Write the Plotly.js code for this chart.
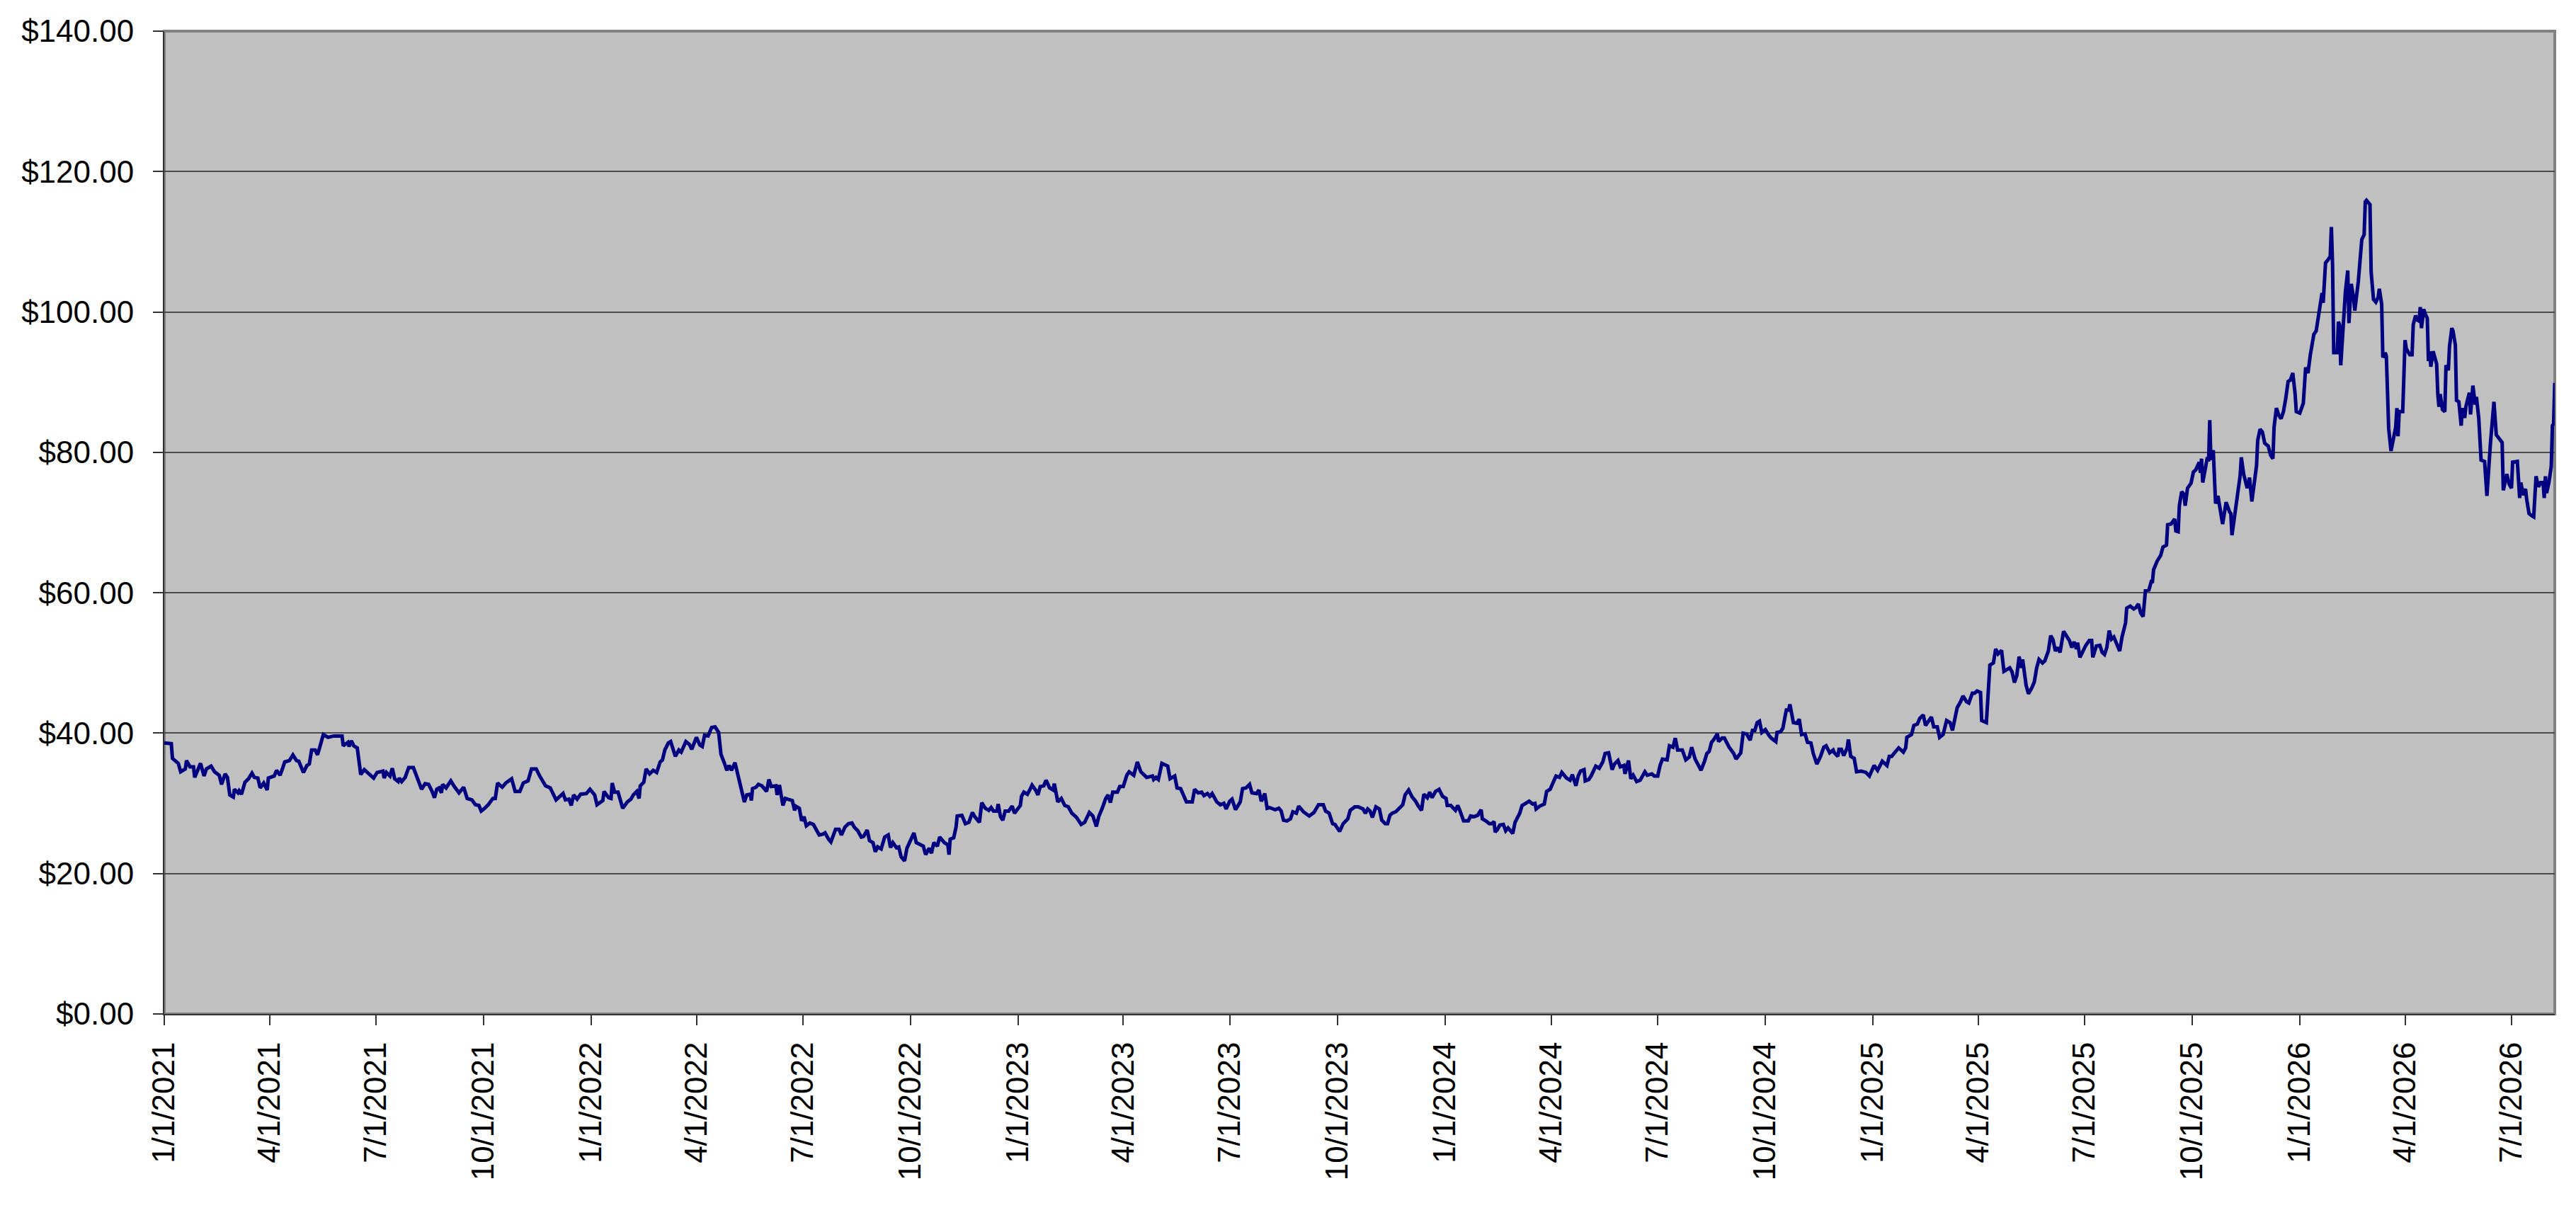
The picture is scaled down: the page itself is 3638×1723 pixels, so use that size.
<!DOCTYPE html>
<html>
<head>
<meta charset="utf-8">
<script src="https://cdn.plot.ly/plotly-3.0.1.min.js"></script>
<style>
  html, body { margin: 0; padding: 0; background: #FFFFFF; }
  #chart { width: 3638px; height: 1723px; }
</style>
</head>
<body>
<div id="chart"></div>
<script>
// Price history.
// tradeDay = days since 1/1/2021, closePrice = price in $
const startDate = '2021-01-01';

const tradeDay = [
    // 2021
    0, 6, 7, 10, 12, 14, 18, 19, 22, 25, 26, 28, 31, 34, 36, 40, 43, 47, 49, 52, 54, 56, 59, 60, 63, 64, 66, 69, 72, 75,
    77, 80, 82, 85, 88, 89, 94, 96, 99, 101, 103, 107, 110, 113, 115, 119, 122, 124, 126, 129, 131, 134, 136, 140, 145,
    152, 153, 157, 158, 160, 162, 165, 166, 168, 171, 175, 179, 182, 187, 188, 190, 193, 195, 197, 200, 201, 203, 206,
    209, 213, 217, 220, 223, 226, 229, 231, 233, 235, 237, 238, 241, 245, 248, 252, 256, 259, 263, 266, 269, 271, 274,
    277, 281, 283, 285, 289, 292, 297, 300, 304, 307, 311, 314, 318, 321, 326, 330, 335, 341,
    // 2022
    343, 346, 348, 350, 353, 356, 361, 364, 368, 370, 375, 376, 380, 382, 383, 385, 388, 392, 396, 399, 401, 404, 406,
    407, 410, 412, 415, 418, 421, 424, 426, 428, 431, 433, 437, 440, 442, 446, 449, 451, 455, 458, 460, 462, 465, 468,
    471, 474, 476, 479, 481, 483, 485, 488, 490, 493, 494, 496, 498, 501, 502, 503, 506, 508, 511, 515, 517, 519, 523,
    524, 526, 528, 529, 531, 534, 537, 539, 540, 543, 545, 547, 549, 552, 555, 558, 560, 563, 565, 568, 570, 574, 577,
    579, 582, 585, 588, 590, 593, 596, 598, 601, 603, 606, 608, 610, 613, 616, 619, 621, 623, 626, 628, 630, 633, 635,
    638, 641, 643, 646, 649, 651, 654, 656, 658, 661, 663, 667, 670, 671, 672, 675, 677, 678, 682, 685, 688, 691, 693,
    697, 699, 702, 705, 707, 709, 712, 713, 715, 717, 719, 722, 725, 727,
    // 2023
    732, 733, 735, 738, 740, 742, 745, 747, 749, 752, 754, 757, 760, 761, 764, 767, 770, 773, 776, 780, 784, 787, 791,
    794, 797, 799, 802, 805, 807, 809, 811, 815, 817, 820, 823, 825, 829, 832, 835, 837, 840, 845, 846, 848, 850, 852,
    853, 858, 860, 864, 866, 869, 874, 877, 879, 881, 884, 887, 889, 892, 894, 896, 900, 903, 906, 908, 911, 913, 916,
    920, 922, 925, 928, 930, 934, 936, 938, 941, 943, 945, 948, 950, 953, 955, 957, 960, 963, 965, 968, 970, 974, 979,
    983, 987, 991, 993, 996, 999, 1001, 1005, 1008, 1012, 1014, 1018, 1021, 1025, 1027, 1029, 1031, 1033, 1036, 1039,
    1041, 1044, 1046, 1048, 1050, 1053, 1056, 1059, 1061, 1064, 1067, 1070, 1072, 1075, 1077, 1080, 1082, 1084, 1087,
    1090, 1093, 1096, 1097, 1100,
    // 2024
    1104, 1106, 1108, 1111, 1115, 1117, 1120, 1123, 1126, 1127, 1130, 1133, 1135, 1137, 1138, 1140, 1142, 1145, 1147,
    1149, 1153, 1155, 1159, 1161, 1165, 1167, 1170, 1172, 1173, 1176, 1180, 1182, 1185, 1188, 1190, 1193, 1195, 1199,
    1202, 1204, 1207, 1209, 1211, 1214, 1215, 1218, 1220, 1224, 1227, 1230, 1232, 1235, 1238, 1240, 1243, 1245, 1248,
    1249, 1252, 1254, 1256, 1259, 1262, 1266, 1268, 1272, 1274, 1277, 1279, 1281, 1285, 1287, 1290, 1292, 1294, 1298,
    1301, 1304, 1306, 1309, 1311, 1314, 1317, 1319, 1321, 1323, 1325, 1328, 1329, 1332, 1334, 1336, 1338, 1342, 1344,
    1348, 1350, 1353, 1356, 1358, 1360, 1362, 1364, 1366, 1369, 1372, 1374, 1378, 1379, 1382, 1384, 1386, 1387, 1389,
    1390, 1393, 1396, 1398, 1400, 1403, 1405, 1408, 1410, 1413, 1416, 1419, 1421, 1424, 1427, 1428, 1431, 1432, 1434,
    1436, 1439, 1440, 1442, 1445, 1447, 1451, 1455, 1458, 1462, 1465, 1469,
    // 2025
    1473, 1475, 1477, 1481, 1483, 1487, 1489, 1490, 1494, 1496, 1499, 1501, 1504, 1506, 1509, 1511, 1513, 1516, 1518,
    1521, 1524, 1527, 1529, 1531, 1533, 1536, 1538, 1541, 1543, 1546, 1548, 1550, 1553, 1554, 1556, 1558, 1561, 1564,
    1566, 1568, 1571, 1573, 1575, 1578, 1580, 1582, 1584, 1586, 1588, 1589, 1592, 1594, 1597, 1599, 1601, 1603, 1606,
    1608, 1611, 1613, 1615, 1617, 1619, 1621, 1624, 1626, 1629, 1631, 1633, 1635, 1636, 1638, 1641, 1643, 1646, 1648,
    1649, 1652, 1655, 1657, 1659, 1661, 1663, 1665, 1667, 1670, 1672, 1674, 1677, 1678, 1681, 1684, 1686, 1688, 1690,
    1692, 1694, 1697, 1699, 1700, 1701, 1704, 1707,
    1709, 1712, 1713, 1716, 1719, 1720, 1722, 1723, 1725, 1727, 1728, 1730, 1733, 1735, 1737, 1740, 1741, 1742, 1743,
    1745, 1747, 1748, 1749, 1750, 1752, 1754, 1756, 1760, 1763, 1766, 1767, 1768, 1770, 1772, 1775, 1776, 1778, 1781,
    1783, 1785, 1787, 1789, 1790, 1792, 1794, 1796, 1799, 1801, 1803, 1804, 1806, 1808, 1810, 1812,
    1814, 1816, 1818, 1820, 1822, 1823,
    // 2026
    1826, 1829, 1831, 1833, 1835, 1838, 1840, 1843, 1845, 1846, 1848, 1850, 1852, 1853, 1854, 1855, 1858, 1859, 1860,
    1861, 1863, 1865, 1867, 1868, 1870, 1872, 1873, 1876, 1878, 1879, 1881, 1882, 1883, 1886, 1887, 1889, 1891, 1893,
    1894, 1896, 1897, 1899, 1900, 1901, 1902, 1904, 1906, 1908, 1909, 1910, 1911, 1914, 1916, 1917, 1920, 1922, 1923,
    1925, 1926, 1928, 1929, 1930, 1932, 1933, 1935, 1936, 1937, 1938, 1940, 1943, 1944, 1945, 1946, 1948, 1950, 1951,
    1953, 1954, 1956, 1957, 1959, 1960, 1962, 1964, 1965, 1967, 1968, 1971, 1972, 1974, 1976, 1977, 1979, 1981, 1984,
    1986, 1989, 1992, 1994, 1996, 1999, 2000, 2003, 2005, 2007, 2008, 2012, 2014, 2015, 2017, 2019, 2020, 2022, 2024,
    2026, 2028, 2030, 2032, 2034, 2035, 2036, 2037, 2039, 2041, 2042, 2043, 2044
];

const closePrice = [
    // 2021
    38.6, 38.5, 36.4, 35.9, 35.7, 34.5, 34.9, 36.1, 35.2, 35.2, 33.7, 34.5, 35.7, 33.9, 34.9, 35.3, 34.5, 34.0, 32.7,
    34.2, 33.7, 31.2, 30.9, 32.0, 31.5, 31.8, 31.3, 33.0, 33.5, 34.3, 33.7, 33.6, 32.2, 32.9, 31.9, 33.6, 33.9, 34.7,
    34.0, 34.9, 35.9, 36.1, 36.9, 36.1, 36.0, 34.4, 35.4, 35.6, 37.6, 37.6, 36.9, 38.6, 39.8, 39.4, 39.6, 39.6, 38.2,
    38.7, 38.1, 38.9, 38.2, 37.9, 36.6, 34.1, 34.8, 34.2, 33.6, 34.4, 34.6, 33.6, 34.4, 33.9, 35.0, 33.5, 33.1, 33.6,
    33.1, 33.7, 35.1, 35.1, 33.2, 32.0, 32.8, 32.7, 31.7, 30.8, 32.0, 32.2, 31.5, 32.7, 32.2, 33.2, 32.4, 31.5, 32.3,
    30.7, 30.5, 29.8, 29.7, 28.9, 29.3, 29.8, 30.7, 30.7, 32.9, 32.3, 32.9, 33.5, 31.7, 31.7, 32.9, 33.2, 34.9, 34.9,
    33.9, 32.5, 32.2, 30.5, 31.4,
    // 2022
    30.5, 30.6, 29.7, 31.2, 30.6, 31.3, 31.4, 32.0, 31.2, 29.8, 30.4, 31.7, 30.8, 30.7, 32.9, 31.6, 31.6, 29.3, 30.2,
    30.6, 31.2, 31.7, 30.7, 32.5, 33.0, 34.9, 34.2, 34.7, 34.4, 35.9, 36.2, 37.6, 38.6, 38.8, 36.7, 37.6, 37.3, 38.8,
    38.4, 37.7, 39.4, 38.3, 38.1, 39.7, 39.6, 40.8, 40.9, 40.1, 37.0, 35.7, 34.7, 35.4, 34.7, 35.8, 34.4, 32.4, 31.7,
    30.2, 31.2, 31.3, 30.4, 32.1, 32.3, 32.7, 32.5, 31.7, 33.4, 32.4, 32.5, 31.2, 32.6, 30.8, 29.7, 30.7, 30.5, 30.4,
    29.0, 29.6, 29.3, 27.5, 28.1, 26.8, 27.2, 27.0, 26.1, 25.5, 25.6, 25.8, 24.9, 24.5, 26.3, 26.3, 25.5, 26.6, 27.1,
    27.2, 26.6, 26.1, 25.2, 25.3, 26.2, 24.7, 24.4, 23.1, 23.8, 23.5, 25.2, 25.5, 23.7, 24.4, 23.7, 23.8, 22.4, 21.8,
    23.6, 24.8, 25.8, 24.4, 24.1, 23.9, 22.7, 23.6, 22.9, 24.4, 23.9, 25.2, 24.4, 24.1, 22.7, 24.9, 25.1, 26.6, 28.2,
    28.3, 27.1, 27.3, 28.7, 28.1, 27.3, 30.1, 29.3, 29.0, 29.4, 28.9, 28.9, 29.9, 28.1, 27.6, 28.9, 28.9, 29.6, 28.6,
    // 2023
    29.7, 31.0, 31.6, 31.3, 31.9, 32.6, 31.9, 31.2, 32.4, 32.5, 33.3, 32.2, 31.9, 32.8, 30.2, 30.7, 29.7, 29.5, 28.6,
    28.0, 27.0, 27.3, 28.7, 28.2, 26.7, 28.1, 29.3, 30.7, 31.2, 30.1, 31.6, 31.6, 32.4, 32.4, 34.0, 34.5, 34.0, 35.9,
    34.5, 34.2, 33.7, 33.9, 33.4, 33.7, 33.4, 34.9, 35.7, 35.3, 33.5, 33.9, 32.2, 32.1, 30.2, 30.2, 30.2, 32.0, 31.5,
    31.6, 31.1, 31.4, 31.0, 31.4, 30.2, 29.8, 30.0, 29.2, 30.3, 30.6, 29.1, 30.2, 32.1, 32.2, 32.7, 31.5, 31.4, 31.9,
    30.3, 31.4, 29.3, 29.4, 29.2, 29.1, 29.3, 28.9, 27.6, 27.5, 27.8, 28.8, 28.6, 29.6, 28.8, 28.2, 28.7, 29.8, 29.8,
    28.9, 28.6, 27.1, 27.0, 26.0, 27.1, 27.8, 29.0, 29.5, 29.5, 29.2, 28.6, 29.2, 28.9, 28.0, 29.5, 29.2, 27.6, 27.1,
    27.1, 28.3, 28.6, 28.8, 29.3, 29.8, 31.2, 31.9, 30.9, 30.3, 29.7, 29.0, 31.3, 30.8, 31.6, 30.8, 31.7, 32.0, 31.0,
    30.7, 29.7, 29.7,
    // 2024
    29.0, 29.7, 28.9, 27.5, 27.5, 28.2, 28.1, 28.3, 29.1, 27.8, 27.5, 27.1, 27.1, 27.4, 25.9, 26.3, 26.9, 27.0, 26.1,
    26.5, 25.7, 27.3, 28.6, 29.7, 30.1, 30.3, 29.9, 30.0, 29.2, 29.6, 29.9, 31.7, 32.0, 33.1, 33.9, 33.7, 34.4, 33.6,
    33.3, 34.1, 32.5, 33.9, 34.6, 34.8, 33.2, 33.4, 33.9, 35.3, 35.0, 35.9, 37.1, 37.2, 34.8, 35.6, 36.1, 35.2, 35.4,
    34.2, 36.1, 33.5, 34.0, 33.1, 33.3, 34.5, 34.0, 34.2, 33.9, 33.9, 35.4, 36.3, 36.2, 38.2, 38.0, 39.3, 37.6, 37.6,
    36.2, 36.6, 38.0, 36.3, 35.7, 34.7, 36.0, 37.1, 37.4, 38.7, 39.1, 39.9, 38.8, 39.3, 39.3, 38.6, 38.0, 37.1, 36.3,
    37.2, 40.0, 39.9, 39.0, 40.4, 40.4, 41.5, 41.7, 40.1, 40.5, 39.7, 39.3, 38.8, 40.1, 40.2, 40.7, 42.5, 43.3, 43.3,
    44.1, 41.5, 41.4, 42.0, 39.8, 39.9, 38.7, 38.6, 37.1, 35.6, 36.6, 38.0, 38.2, 37.2, 37.6, 37.2, 36.7, 37.7, 37.7,
    36.8, 37.9, 39.1, 36.7, 36.4, 34.5, 34.6, 34.4, 33.9, 35.4, 34.7, 36.0,
    // 2025
    35.4, 36.7, 36.7, 37.6, 37.9, 37.3, 37.9, 39.4, 39.8, 41.1, 41.3, 42.1, 42.6, 41.1, 41.8, 42.3, 40.9, 40.9, 39.4,
    39.8, 41.8, 41.5, 40.4, 41.9, 43.6, 44.5, 45.3, 44.5, 44.3, 45.7, 45.7, 46.0, 45.8, 41.8, 41.6, 41.5, 49.7, 50.0,
    52.0, 51.3, 51.8, 48.8, 49.0, 49.3, 48.7, 47.2, 48.2, 50.9, 49.3, 50.5, 46.8, 45.6, 46.5, 47.3, 49.3, 50.5, 50.0,
    50.3, 51.7, 53.9, 53.3, 51.7, 52.2, 51.5, 54.5, 53.9, 53.2, 52.2, 53.0, 52.0, 52.9, 50.8, 52.0, 52.5, 53.2, 53.2,
    50.8, 52.4, 52.5, 51.5, 51.2, 52.2, 54.6, 53.4, 53.7, 52.5, 51.7, 53.7, 55.7, 57.8, 58.1, 57.7, 57.9, 58.4, 57.1,
    56.6, 60.3, 60.4, 61.6, 61.6, 63.3, 64.5, 65.3,
    66.5, 66.8, 69.7, 69.8, 70.5, 68.8, 68.7, 72.4, 74.4, 74.0, 72.4, 74.9, 75.6, 77.2, 77.5, 78.6, 77.1, 79.1, 75.7,
    77.9, 79.3, 78.7, 84.6, 78.9, 80.3, 72.7, 73.8, 69.8, 72.9, 71.5, 71.3, 68.2, 70.7, 73.2, 76.7, 79.3, 76.9, 74.9,
    76.4, 73.0, 75.7, 78.1, 81.7, 83.3, 82.9, 81.3, 80.9, 79.6, 79.1, 83.6, 86.3, 85.3, 84.8, 85.8,
    87.7, 90.1, 90.3, 91.3, 88.3, 85.8,
    // 2026
    85.6, 87.0, 92.1, 91.3, 93.9, 96.8, 97.3, 100.9, 102.7, 101.3, 107.0, 107.4, 107.9, 112.1, 106.8, 94.2, 94.2, 98.6,
    98.2, 92.4, 98.2, 102.9, 105.9, 98.4, 104.0, 102.0, 100.2, 104.3, 108.3, 110.3, 111.0, 115.7, 115.9, 115.3, 105.7,
    101.8, 101.4, 102.1, 103.3, 101.1, 93.5, 94.2, 93.7, 88.8, 83.4, 80.2, 82.3, 83.6, 86.3, 82.3, 85.8, 85.8, 96.0,
    94.8, 93.9, 93.9, 98.2, 99.5, 98.9, 98.7, 100.7, 97.7, 100.4, 99.8, 99.1, 93.0, 94.4, 92.2, 94.4, 92.6, 88.3, 86.5,
    88.3, 86.1, 85.8, 92.4, 91.7, 95.1, 97.7, 97.3, 95.3, 87.4, 87.2, 83.8, 86.3, 84.9, 86.5, 88.5, 85.4, 89.5, 86.8,
    87.9, 84.9, 78.9, 78.7, 73.8, 81.3, 87.2, 82.5, 82.0, 81.4, 74.6, 76.9, 75.5, 74.9, 78.6, 78.7, 73.5, 75.7, 73.9,
    74.8, 73.3, 71.3, 71.0, 70.8, 76.6, 75.1, 75.7, 75.7, 73.5, 76.6, 74.2, 75.7, 78.0, 83.8, 84.1, 89.9
];

const priceTicks = [0, 20, 40, 60, 80, 100, 120, 140];
const priceTickText = priceTicks.map(v => '$' + v.toFixed(2));

// day offsets -> date strings for the date axis
const startMs = Date.parse(startDate + 'T00:00:00Z');
const dates = tradeDay.map(d => new Date(startMs + d * 86400000).toISOString().slice(0, 10));

const axisFont = { family: 'Liberation Sans, Arial, sans-serif', size: 44, color: '#000000' };

const traces = [{
    type: 'scatter',
    mode: 'lines',
    x: dates,
    y: closePrice,
    line: { color: '#000080', width: 5 },
    hoverinfo: 'x+y'
}];

const layout = {
    width: 3638,
    height: 1723,
    margin: { l: 232, r: 30, t: 44, b: 291, autoexpand: false },
    paper_bgcolor: '#FFFFFF',
    plot_bgcolor: '#C0C0C0',
    showlegend: false,
    xaxis: {
        type: 'date',
        range: [dates[0], dates[dates.length - 1]],
        tick0: startDate,
        dtick: 'M3',
        tickformat: '%-m/%-d/%Y',
        tickangle: -90,
        tickfont: axisFont,
        ticks: 'outside',
        ticklen: 14,
        tickwidth: 2,
        tickcolor: '#333333',
        ticklabelstandoff: 6,
        showgrid: false,
        showline: true,
        linecolor: '#333333',
        linewidth: 2,
        zeroline: false
    },
    yaxis: {
        range: [0, 140],
        tickvals: priceTicks,
        ticktext: priceTickText,
        tickfont: axisFont,
        ticks: 'outside',
        ticklen: 14,
        tickwidth: 2,
        tickcolor: '#333333',
        ticklabelstandoff: 18,
        showgrid: true,
        gridcolor: '#4a4a4a',
        gridwidth: 2,
        showline: true,
        linecolor: '#333333',
        linewidth: 2,
        zeroline: false
    },
    shapes: [{
        // grey plot-area frame
        type: 'rect',
        xref: 'paper', yref: 'paper',
        x0: 0, x1: 1, y0: 0, y1: 1,
        line: { color: '#808080', width: 4 },
        layer: 'below'
    }]
};

Plotly.newPlot('chart', traces, layout, { displayModeBar: false, staticPlot: true });
</script>
</body>
</html>
